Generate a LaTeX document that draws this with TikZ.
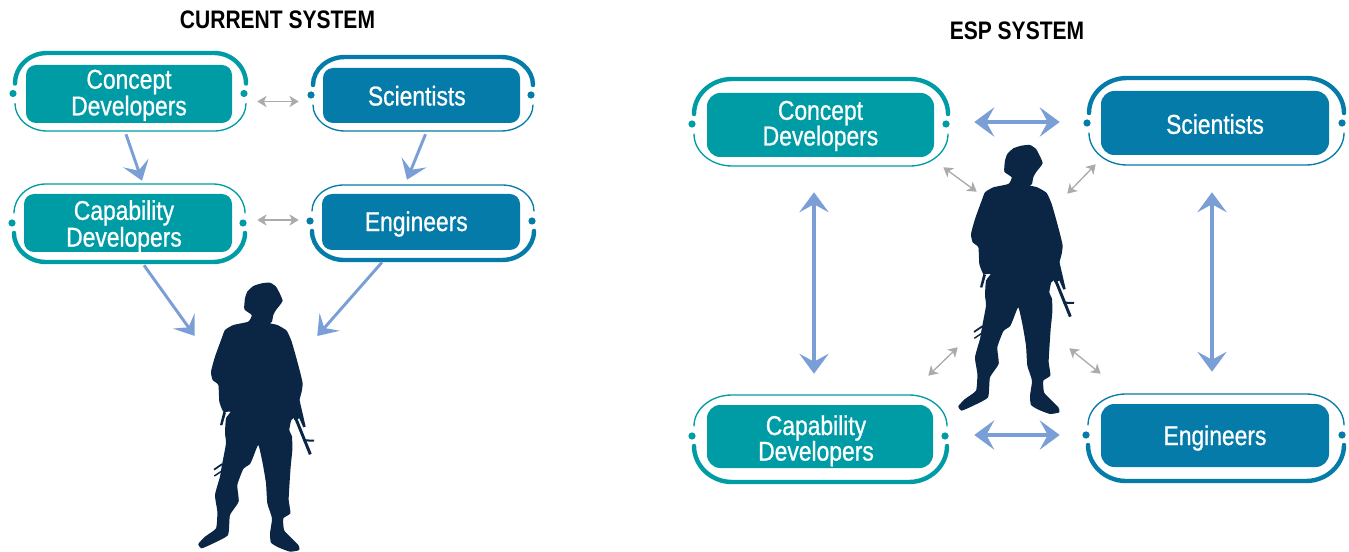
\documentclass[tikz,border=0pt]{standalone}
\usepackage{fontspec}
\setmainfont[FakeStretch=0.83]{Liberation Sans}
\newfontfamily\labfont[FakeStretch=0.84,FakeBold=0.8]{Liberation Sans}
\usetikzlibrary{arrows.meta}
\definecolor{espteal}{HTML}{009CA6}
\definecolor{espblue}{HTML}{047BA8}
\definecolor{espnavy}{HTML}{0B2545}
\definecolor{esparrow}{HTML}{7A9FD6}
\definecolor{espgrey}{HTML}{ABABAF}
\tikzset{
  innerbox/.style={draw=none,rounded corners=#1,inner sep=0pt},
  lab/.style={text=white,align=center,inner sep=0pt,font=\fontsize{20.4}{17.2}\labfont},
  labb/.style={text=white,align=center,inner sep=0pt,font=\fontsize{20.4}{19.2}\labfont},
  titletext/.style={text=black,inner sep=0pt,font=\fontsize{19}{20}\selectfont\bfseries},
  ghost/.style={inner sep=0pt,draw=none,fill=none},
  bluearrow/.style={draw=esparrow,line width=2.2pt,-{Stealth[length=14pt,width=20pt,inset=6pt]}},
  bigarrow/.style={draw=esparrow,line width=2.8pt,{Stealth[length=15pt,width=22pt,inset=6pt]}-{Stealth[length=15pt,width=22pt,inset=6pt]}},
  greyarrow/.style={draw=espgrey,line width=1pt,{Stealth[length=7pt,width=8.5pt,inset=2pt]}-{Stealth[length=7pt,width=8.5pt,inset=2pt]}},
}
% colour, x1, top, x2, bottom, dot y, corner run (px), top width, bottom width
\newcommand\espshell[9]{%
  \draw[#1,line width=#8,line cap=round]
    (#2,#6-10) .. controls (#2,{#6-10-0.55*(#6-10-#3)}) and ({#2+0.45*#7},#3) .. ({#2+#7},#3)
    -- ({#4-#7},#3) .. controls ({#4-0.45*#7},#3) and (#4,{#6-10-0.55*(#6-10-#3)}) .. (#4,#6-10);
  \draw[#1,line width=#9,line cap=round]
    (#2,#6+10) .. controls (#2,{#6+10+0.55*(#5-#6-10)}) and ({#2+0.45*#7},#5) .. ({#2+#7},#5)
    -- ({#4-#7},#5) .. controls ({#4-0.45*#7},#5) and (#4,{#6+10+0.55*(#5-#6-10)}) .. (#4,#6+10);
  \fill[#1] (#2-2,#6) circle (2.7pt) (#4-2,#6) circle (2.7pt);
}
\newcommand\espsoldier{%
  \fill[espnavy] plot[smooth cycle,tension=0.3] coordinates {
  (163,118) (165,85) (172,65) (190,48) (215,40) (240,38) (258,50) (270,72) (278,92) (270,105) (258,120) (250,135) (246,155) (240,160)
  (262,165) (290,182) (305,215) (318,260) (330,305) (338,340) (335,365) (328,392) (326,420) (318,440) (304,450) (298,480) (306,500) (307,540) (302,590) (298,650) (296,690) (301,730) (280,745) (282,780) (300,800) (325,825) (328,840) (300,845) (265,832) (243,818) (240,790) (246,745) (232,700) (228,640) (218,580) (205,525) (190,560) (180,582) (160,597) (142,645) (146,695) (120,735) (114,795) (70,820) (35,835) (25,822) (45,800) (78,775) (82,725) (75,675) (90,620) (95,590) (108,520) (105,490) (108,445) (122,425) (100,425) (88,395) (85,345) (68,330) (63,305) (75,260) (95,205) (105,180) (130,165) (175,155) (185,135)};
  \fill[espnavy] (100,425) -- (108,428) -- (97,466) -- (90,465) -- cycle;
  \fill[espnavy] (318,385) -- (328,388) -- (347,470) -- (340,472) -- (328,445) -- (312,450) -- cycle;
  \draw[espnavy,line width=2.2pt] (316,442) -- (361,553);
  \draw[espnavy,line width=1.5pt] (340,511) -- (372,512);
  \draw[espnavy,line width=1.3pt] (72,599) -- (97,582);
  \draw[espnavy,line width=1.1pt] (73,618) -- (97,602);
}
\begin{document}
\begin{tikzpicture}[x=0.75pt,y=-0.75pt]
\useasboundingbox (0,0) rectangle (1349,552);
% titles
\node[titletext] (t1) at (277.5,20) {CURRENT SYSTEM};
\node[titletext] (t2) at (1017,31) {ESP SYSTEM};
% left panel shells
\espshell{espteal}{15}{53}{246}{131}{93.5}{32}{3.3pt}{1pt}
\espshell{espblue}{313}{57}{533}{131}{95}{32}{3.3pt}{1pt}
\espshell{espteal}{14}{184}{245}{262}{223}{32}{1pt}{3.3pt}
\espshell{espblue}{312}{185}{534}{260}{221}{32}{1pt}{3.3pt}
% left panel boxes
\node[innerbox=7.5pt,fill=espteal,minimum width={206*0.75pt},minimum height={58*0.75pt},label={[lab,yshift=-1pt]center:{Concept\\Developers}}] (lcd) at (129,94) {};
\node[innerbox=7.5pt,fill=espblue,minimum width={197*0.75pt},minimum height={55*0.75pt},label={[lab,xshift=-3.5pt,yshift=-0.2pt]center:{Scientists}}] (lsc) at (421.5,95.5) {};
\node[innerbox=7.5pt,fill=espteal,minimum width={208*0.75pt},minimum height={58*0.75pt},label={[lab,xshift=-3pt,yshift=-2.4pt]center:{Capability\\Developers}}] (lcap) at (128,223) {};
\node[innerbox=7.5pt,fill=espblue,minimum width={198*0.75pt},minimum height={56*0.75pt},label={[lab,xshift=-3.5pt,yshift=-1.5pt]center:{Engineers}}] (len) at (421,222) {};
% right panel shells
\espshell{espteal}{694}{79}{948}{166}{124}{38}{3.3pt}{1pt}
\espshell{espblue}{1089}{78}{1344}{165}{123}{38}{3.3pt}{1pt}
\espshell{espteal}{694}{395}{947}{482}{436}{38}{1pt}{3.3pt}
\espshell{espblue}{1088}{394}{1344}{481}{435}{38}{1pt}{3.3pt}
% right panel boxes
\node[innerbox=10pt,fill=espteal,minimum width={227*0.75pt},minimum height={64*0.75pt},label={[labb,yshift=-0.7pt]center:{Concept\\Developers}}] (rcd) at (820.5,125) {};
\node[innerbox=10pt,fill=espblue,minimum width={228*0.75pt},minimum height={64*0.75pt},label={[labb,yshift=-0.8pt]center:{Scientists}}] (rsc) at (1215,123) {};
\node[innerbox=10pt,fill=espteal,minimum width={226*0.75pt},minimum height={63*0.75pt},label={[labb,xshift=-3pt,yshift=-3.2pt]center:{Capability\\Developers}}] (rcap) at (820,436.5) {};
\node[innerbox=10pt,fill=espblue,minimum width={228*0.75pt},minimum height={63*0.75pt},label={[labb,yshift=-1.9pt]center:{Engineers}}] (ren) at (1215,435.5) {};
% soldiers
\begin{scope}[shift={(190,270)},x=0.25pt,y=-0.25pt]\espsoldier\end{scope}
\begin{scope}[shift={(950,132.3)},x=0.25pt,y=-0.25pt]\espsoldier\end{scope}
\node[ghost,minimum width={122*0.75pt},minimum height={269*0.75pt}] (sl) at (256,417.5) {};
\node[ghost,minimum width={102*0.75pt},minimum height={269*0.75pt}] (sr) at (1016,279.5) {};
% left connectors
\draw[bluearrow] ([shift={(-3,11)}]lcd.south) -- ([shift={(14,-13)}]lcap.north);
\draw[bluearrow] ([shift={(4,11)}]lsc.south) -- ([shift={(-14,-14)}]len.north);
\draw[bluearrow] ([shift={(16,13)}]lcap.south) -- ([shift={(0,-81.5)}]sl.west);
\draw[bluearrow] ([shift={(-39,12)}]len.south) -- ([shift={(0,-81.5)}]sl.east);
\draw[greyarrow] ([shift={(25,7.5)}]lcd.east) -- ([shift={(-24,6)}]lsc.west);
\draw[greyarrow] ([shift={(25,-3)}]lcap.east) -- ([shift={(-23,-2)}]len.west);
% right connectors
\draw[bigarrow] ([shift={(40,-3)}]rcd.east) -- ([shift={(-41,-1)}]rsc.west);
\draw[bigarrow] ([shift={(41,-1.5)}]rcap.east) -- ([shift={(-41,-0.5)}]ren.west);
\draw[bigarrow] ([shift={(-6.5,35)}]rcd.south) -- ([shift={(-6,-31)}]rcap.north);
\draw[bigarrow] ([shift={(-3,37)}]rsc.south) -- ([shift={(-3,-32)}]ren.north);
\draw[greyarrow] ([shift={(9,10)}]rcd.south east) -- ([shift={(12,47)}]sr.north west);
\draw[greyarrow] ([shift={(-5,9)}]rsc.south west) -- ([shift={(0,49)}]sr.north east);
\draw[greyarrow] ([shift={(-7,-67)}]sr.south west) -- ([shift={(-5,-29)}]rcap.north east);
\draw[greyarrow] ([shift={(2,-66)}]sr.south east) -- ([shift={(0,-30)}]ren.north west);
\end{tikzpicture}
\end{document}
